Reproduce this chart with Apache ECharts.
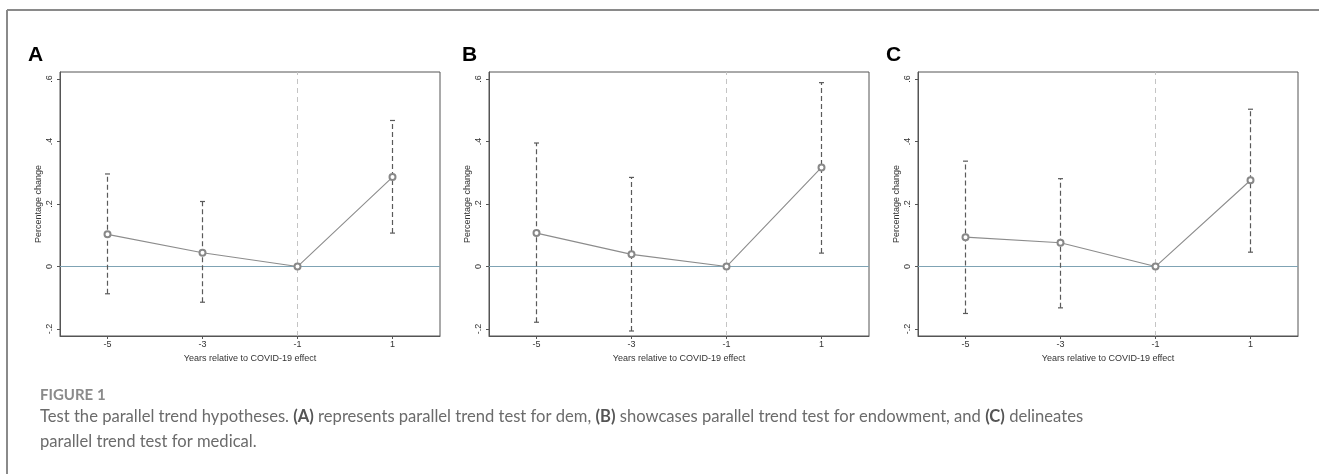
<!DOCTYPE html>
<html>
<head>
<meta charset="utf-8">
<style>
html,body{margin:0;padding:0;background:#fff;}
#chart{width:1319px;height:474px;}
</style>
<script src="https://cdn.jsdelivr.net/npm/echarts@6/dist/echarts.min.js"></script>
</head>
<body>
<div id="chart"></div>
<script>
// ---- data ----
const xValues = [-5, -3, -1, 1];
const xTickLabels = ['-5', '-3', '-1', '1'];
const yTickValues = [-0.2, 0, 0.2, 0.4, 0.6];
const yTickLabels = ['-.2', '0', '.2', '.4', '.6'];

const panelLabels = ['A', 'B', 'C'];

// (A) dem
const demCoef = [0.103, 0.044, 0, 0.286];
const demLow  = [-0.087, -0.114, null, 0.107];
const demHigh = [0.296, 0.208, null, 0.467];
// (B) endowment
const endowCoef = [0.107, 0.039, 0, 0.317];
const endowLow  = [-0.178, -0.206, null, 0.043];
const endowHigh = [0.395, 0.285, null, 0.588];
// (C) medical
const medCoef = [0.094, 0.076, 0, 0.276];
const medLow  = [-0.150, -0.132, null, 0.046];
const medHigh = [0.337, 0.281, null, 0.503];

const panels = [
  {coef: demCoef, low: demLow, high: demHigh},
  {coef: endowCoef, low: endowLow, high: endowHigh},
  {coef: medCoef, low: medLow, high: medHigh}
];

const xAxisTitle = 'Years relative to COVID-19 effect';
const yAxisTitle = 'Percentage change';

// ---- layout ----
const gridLefts = [60, 489, 918];
const labelXs = [28, 462, 886];
const gridTop = 72, gridW = 380, gridH = 264;
const stataFont = '"Liberation Sans", Arial, sans-serif';

const grids = [], xAxes = [], yAxes = [], series = [], graphics = [];

panels.forEach((p, i) => {
  grids.push({left: gridLefts[i], top: gridTop, width: gridW, height: gridH,
    show: true, borderColor: '#555', borderWidth: 1, backgroundColor: 'transparent'});
  xAxes.push({
    type: 'value', gridIndex: i, min: -6, max: 2,
    splitLine: {show: false},
    axisLine: {show: true, onZero: false, lineStyle: {color: '#555', width: 1}},
    axisTick: {show: true, length: 3, customValues: xValues, lineStyle: {color: '#555'}},
    axisLabel: {show: true, customValues: xValues, margin: 4, color: '#333',
      fontFamily: stataFont, fontSize: 9,
      formatter: v => xTickLabels[xValues.indexOf(v)] ?? ''},
    name: xAxisTitle, nameLocation: 'middle', nameGap: 14,
    nameTextStyle: {color: '#333', fontFamily: stataFont, fontSize: 9}
  });
  yAxes.push({
    type: 'value', gridIndex: i, min: -0.222, max: 0.622,
    splitLine: {show: false},
    axisLine: {show: true, onZero: false, lineStyle: {color: '#555', width: 1}},
    axisTick: {show: true, length: 3, customValues: yTickValues, lineStyle: {color: '#555'}},
    axisLabel: {show: true, customValues: yTickValues, rotate: 90, margin: 6, color: '#333',
      fontFamily: stataFont, fontSize: 9,
      formatter: v => {
        const k = yTickValues.findIndex(t => Math.abs(t - v) < 1e-9);
        return k >= 0 ? yTickLabels[k] : '';
      }},
    name: yAxisTitle, nameLocation: 'middle', nameGap: 17, nameRotate: 90,
    nameTextStyle: {color: '#333', fontFamily: stataFont, fontSize: 9}
  });

  const ciData = [];
  xValues.forEach((x, k) => {
    if (p.low[k] != null && p.high[k] != null) ciData.push([x, p.low[k], p.high[k]]);
  });

  series.push({
    type: 'custom', xAxisIndex: i, yAxisIndex: i, z: 3, silent: true,
    data: ciData,
    encode: {x: 0, y: [1, 2]},
    renderItem: (params, api) => {
      const lo = api.coord([api.value(0), api.value(1)]);
      const hi = api.coord([api.value(0), api.value(2)]);
      const cw = 2.5;
      const st = {stroke: '#5a5a5a', lineWidth: 1.2};
      return {type: 'group', children: [
        {type: 'line', shape: {x1: lo[0], y1: lo[1], x2: hi[0], y2: hi[1]},
          style: Object.assign({}, st, {lineDash: [5, 3]})},
        {type: 'line', shape: {x1: lo[0] - cw, y1: lo[1], x2: lo[0] + cw, y2: lo[1]}, style: st},
        {type: 'line', shape: {x1: hi[0] - cw, y1: hi[1], x2: hi[0] + cw, y2: hi[1]}, style: st}
      ]};
    }
  });

  series.push({
    type: 'line', xAxisIndex: i, yAxisIndex: i, z: 4, silent: true,
    data: xValues.map((x, k) => [x, p.coef[k]]),
    symbol: 'emptyCircle', symbolSize: 6, showSymbol: true,
    lineStyle: {color: '#8c8c8c', width: 1.1},
    itemStyle: {color: '#888', borderColor: '#888', borderWidth: 1},
    markLine: {
      silent: true, symbol: 'none', label: {show: false}, z: 1,
      data: [
        {yAxis: 0, lineStyle: {color: '#7fa3b4', width: 1.2, type: 'solid'}},
        {xAxis: -1, lineStyle: {color: '#c4c4c4', width: 1, type: [5, 4]}}
      ]
    }
  });

  graphics.push({type: 'text', left: labelXs[i], top: 45,
    style: {text: panelLabels[i], font: 'bold 21px "Liberation Sans", Arial, sans-serif', fill: '#000'}});
});

// border of figure box
graphics.push({type: 'line', shape: {x1: 7, y1: 10, x2: 1319, y2: 10}, style: {stroke: '#8a8a8a', lineWidth: 2}});
graphics.push({type: 'line', shape: {x1: 7, y1: 10, x2: 7, y2: 474}, style: {stroke: '#8a8a8a', lineWidth: 2}});

// caption
const capFont = 'Lato, "Open Sans", sans-serif';
graphics.push({type: 'text', x: 40, y: 395,
  style: {text: 'FIGURE 1', fontFamily: capFont, fontSize: 15, fontWeight: 'bold', fill: '#8a8a8a', verticalAlign: 'middle'}});
graphics.push({type: 'text', x: 40, y: 417,
  style: {
    text: 'Test the parallel trend hypotheses. {b|(A)} represents parallel trend test for dem, {b|(B)} showcases parallel trend test for endowment, and {b|(C)} delineates',
    fontFamily: capFont, fontSize: 16.6, fill: '#6b6b6b', verticalAlign: 'middle',
    rich: {b: {fontFamily: capFont, fontSize: 16.6, fontWeight: 'bold', fill: '#555', color: '#555'}}
  }});
graphics.push({type: 'text', x: 40, y: 442,
  style: {text: 'parallel trend test for medical.', fontFamily: capFont, fontSize: 16.6, fill: '#6b6b6b', verticalAlign: 'middle'}});

const chart = echarts.init(document.getElementById('chart'), null, {renderer: 'canvas'});
chart.setOption({
  animation: false,
  backgroundColor: '#fff',
  grid: grids, xAxis: xAxes, yAxis: yAxes, series: series,
  graphic: graphics
});
</script>
</body>
</html>
